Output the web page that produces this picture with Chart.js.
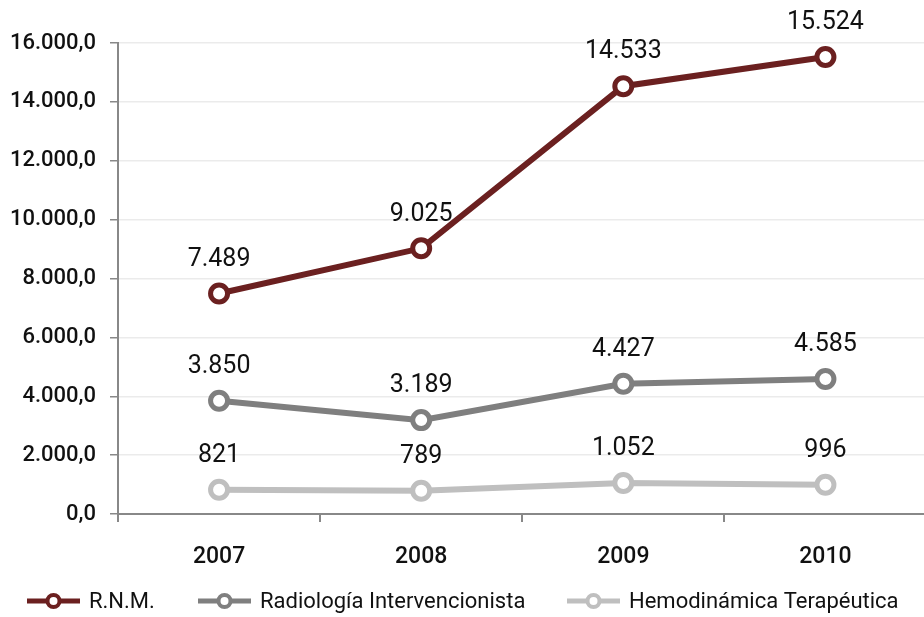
<!DOCTYPE html>
<html>
<head>
<meta charset="utf-8">
<script src="https://cdn.jsdelivr.net/npm/chart.js@4"></script>
<style>
  html, body { margin: 0; padding: 0; background: #fff; overflow: hidden; }
  #wrap { width: 940px; height: 617px; }
</style>
</head>
<body>
<div id="wrap"><canvas id="chart" width="940" height="617"></canvas></div>
<script>
const years = ["2007", "2008", "2009", "2010"];
const rnm = [7489, 9025, 14533, 15524];
const radiologia = [3850, 3189, 4427, 4585];
const hemodinamica = [821, 789, 1052, 996];
const seriesNames = ["R.N.M.", "Radiología Intervencionista", "Hemodinámica Terapéutica"];
const colors = ["#6b2020", "#7f7f7f", "#bfbfbf"];
const yTicks = [0, 2000, 4000, 6000, 8000, 10000, 12000, 14000, 16000];

const FONT = "Roboto, sans-serif";

function fmtInt(v) { return Math.round(v).toLocaleString('de-DE'); }
function fmtAxis(v) { return v.toLocaleString('de-DE', { minimumFractionDigits: 1, maximumFractionDigits: 1 }); }

// etiquetas de datos sobre cada punto
const dataLabels = {
    id: 'dataLabels',
    afterDatasetsDraw(chart) {
        const ctx = chart.ctx;
        ctx.save();
        ctx.font = "25px " + FONT;
        ctx.fillStyle = "#111";
        ctx.textAlign = "center";
        ctx.textBaseline = "middle";
        chart.data.datasets.forEach((ds, i) => {
            chart.getDatasetMeta(i).data.forEach((pt, j) => {
                ctx.fillText(fmtInt(ds.data[j]), pt.x, pt.y - 34);
            });
        });
        ctx.restore();
    }
};

// leyenda dibujada a mano: línea con círculo
const lineLegend = {
    id: 'lineLegend',
    afterDraw(chart) {
        const ctx = chart.ctx;
        const starts = [27, 198, 567];
        const y = 601;
        ctx.save();
        ctx.font = "22px " + FONT;
        ctx.textBaseline = "middle";
        chart.data.datasets.forEach((ds, i) => {
            const x0 = starts[i];
            ctx.strokeStyle = ds.borderColor;
            ctx.lineWidth = 5;
            ctx.beginPath(); ctx.moveTo(x0, y); ctx.lineTo(x0 + 53, y); ctx.stroke();
            ctx.beginPath(); ctx.arc(x0 + 26.5, y, 6, 0, Math.PI * 2);
            ctx.fillStyle = "#fff"; ctx.fill();
            ctx.lineWidth = 4; ctx.stroke();
            ctx.fillStyle = "#111";
            ctx.fillText(ds.label, x0 + 62, y + 1);
        });
        ctx.restore();
    }
};

function mkSet(label, data, color) {
    return {
        label, data,
        borderColor: color,
        backgroundColor: "#fff",
        borderWidth: 6,
        pointRadius: 8.5,
        pointBorderWidth: 5,
        pointBackgroundColor: "#fff",
        pointBorderColor: color,
        tension: 0
    };
}

new Chart(document.getElementById("chart"), {
    type: 'line',
    data: {
        labels: years,
        datasets: [
            mkSet(seriesNames[0], rnm, colors[0]),
            mkSet(seriesNames[1], radiologia, colors[1]),
            mkSet(seriesNames[2], hemodinamica, colors[2])
        ]
    },
    options: {
        responsive: false,
        animation: false,
        layout: { padding: { top: 43, right: 6, left: 0, bottom: 0 } },
        plugins: { legend: { display: false }, tooltip: { enabled: false } },
        scales: {
            x: {
                offset: true,
                grid: { offset: true, drawOnChartArea: false, drawTicks: true, tickLength: 8, color: "#888", lineWidth: 2 },
                border: { color: "#888", width: 2 },
                ticks: { font: { family: FONT, size: 23, weight: '500' }, color: "#111", padding: 21 },
                afterFit(s) { s.height = 103; }
            },
            y: {
                min: 0, max: 16000,
                afterBuildTicks(s) { s.ticks = yTicks.map(v => ({ value: v })); },
                grid: { color: "#ebebeb", lineWidth: 1.5, tickColor: "#888", tickLength: 8 },
                border: { color: "#888", width: 2 },
                ticks: { font: { family: FONT, size: 22, weight: '500' }, color: "#111", padding: 14, callback: v => fmtAxis(v) },
                afterFit(s) { s.width = 118; }
            }
        }
    },
    plugins: [dataLabels, lineLegend]
});
</script>
</body>
</html>
